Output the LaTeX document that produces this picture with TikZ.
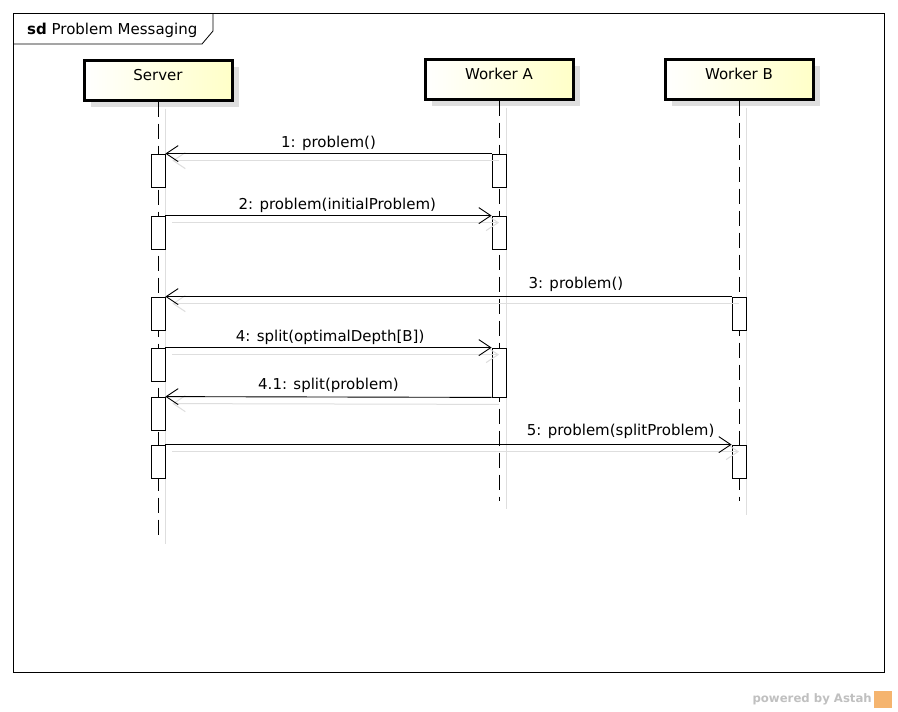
\documentclass[tikz,border=0pt]{standalone}
\usepackage{fontspec}
\setmainfont{DejaVu Sans}
\usetikzlibrary{arrows.meta,shadows}
\definecolor{headyellow}{RGB}{255,255,200}
\definecolor{shadowgray}{RGB}{222,222,222}
\definecolor{astahgray}{RGB}{192,192,192}
\definecolor{astahorange}{RGB}{245,180,110}
\newcommand{\dfont}{\fontsize{15}{17}\selectfont}
\tikzset{
  txt/.style={font=\dfont, inner sep=0pt},
  head/.style={draw=black, line width=3pt, minimum width=148pt, minimum height=40pt, inner sep=0pt,
    text height=11pt, text depth=11pt,
    left color=white, right color=headyellow, font=\dfont,
    drop shadow={shadow xshift=7pt, shadow yshift=-7pt, fill=shadowgray, opacity=1}},
  life/.style={draw=black, line width=0.8pt, dash pattern=on 15pt off 7pt},
  lifeshadow/.style={draw=shadowgray, line width=1pt},
  actbar/.style={draw=black, fill=white, line width=0.8pt, minimum width=14pt, inner sep=0pt},
  msg/.style={draw=black, line width=0.9pt, -{Straight Barb[length=12pt, width=16pt, line width=0.9pt]}},
  msgshadow/.style={draw=shadowgray, line width=1pt, -{Straight Barb[length=12pt, width=16pt, line width=1pt]}},
  lbl/.style={txt, anchor=south, yshift=3pt}
}
\begin{document}
\begin{tikzpicture}[x=1pt, y=-1pt]
\useasboundingbox[fill=white] (0,0) rectangle (898,712);
% frame
\draw[line width=0.8pt] (13,13) rectangle (884,672);
\draw[line width=0.8pt] (13,44) -- (202,44) -- (213,31) -- (213,13);
\node[txt, anchor=west] (title) at (27,30) {\textbf{sd} Problem Messaging};

% lifeline heads
\node[head] (server) at (158,80) {Server};
\node[head] (workerA) at (499,79) {Worker A};
\node[head] (workerB) at (739,79) {Worker B};

% lifeline ends
\coordinate (serverEnd) at (158,538);
\coordinate (workerAEnd) at (499,501);
\coordinate (workerBEnd) at (739,501);

% lifeline shadows
\draw[lifeshadow] ([xshift=7pt,yshift=-7pt]server.south) -- ([xshift=7pt,yshift=-6pt]serverEnd);
\draw[lifeshadow] ([xshift=7pt,yshift=-7pt]workerA.south) -- ([xshift=7pt,yshift=-8pt]workerAEnd);
\draw[lifeshadow] ([xshift=7pt,yshift=-7pt]workerB.south) -- ([xshift=7pt,yshift=-14pt]workerBEnd);

% lifelines
\draw[life] (server.south) -- (serverEnd);
\draw[life] (workerA.south) -- (workerAEnd);
\draw[life] (workerB.south) -- (workerBEnd);

% activation bars
\node[actbar, minimum height=33pt] (s1) at (158,170.5) {};
\node[actbar, minimum height=33pt] (s2) at (158,232.5) {};
\node[actbar, minimum height=33pt] (s3) at (158,313.5) {};
\node[actbar, minimum height=33pt] (s4) at (158,364.5) {};
\node[actbar, minimum height=33pt] (s5) at (158,413.5) {};
\node[actbar, minimum height=33pt] (s6) at (158,461.5) {};
\node[actbar, minimum height=33pt] (a1) at (499,170.5) {};
\node[actbar, minimum height=33pt] (a2) at (499,232.5) {};
\node[actbar, minimum height=49pt] (a3) at (499,372.5) {};
\node[actbar, minimum height=33pt] (b1) at (739,313.5) {};
\node[actbar, minimum height=33pt] (b2) at (739,461.5) {};

% message shadows
\draw[msgshadow] ([yshift=-7pt]a1.north) -- ([shift={(7pt,-7pt)}]s1.north east);
\draw[msgshadow] ([shift={(7pt,-7pt)}]s2.north east) -- ([yshift=-7pt]a2.north);
\draw[msgshadow] ([yshift=-7pt]b1.north) -- ([shift={(7pt,-7pt)}]s3.north east);
\draw[msgshadow] ([shift={(7pt,-7pt)}]s4.north east) -- ([yshift=-7pt]a3.north);
\draw[msgshadow] ([yshift=-7pt]a3.south) -- ([shift={(7pt,-7pt)}]s5.north east);
\draw[msgshadow] ([shift={(7pt,-7pt)}]s6.north east) -- ([yshift=-7pt]b2.north);

% messages
\draw[msg] (a1.north west) -- node[lbl, pos=0.5] (m1) {1: problem()} (s1.north east);
\draw[msg] (s2.north east) -- node[lbl, pos=0.527] (m2) {2: problem(initialProblem)} (a2.north west);
\draw[msg] (b1.north west) -- node[lbl, pos=0.275, yshift=2pt] (m3) {3: problem()} (s3.north east);
\draw[msg] (s4.north east) -- node[lbl, pos=0.505] (m4) {4: split(optimalDepth[B])} (a3.north west);
\draw[msg] (a3.south west) -- node[lbl, pos=0.5, yshift=1pt] (m41) {4.1: split(problem)} (s5.north east);
\draw[msg] (s6.north east) -- node[lbl, pos=0.804, yshift=3pt] (m5) {5: problem(splitProblem)} (b2.north west);

% powered by
\node[font=\bfseries\fontsize{11.7}{14}\selectfont, text=astahgray, anchor=east, inner sep=0pt] (powered) at (872,699) {powered by Astah};
\node[fill=astahorange, minimum width=18pt, minimum height=17pt, inner sep=0pt, anchor=west] (logo) at (874,699) {};
\end{tikzpicture}
\end{document}
